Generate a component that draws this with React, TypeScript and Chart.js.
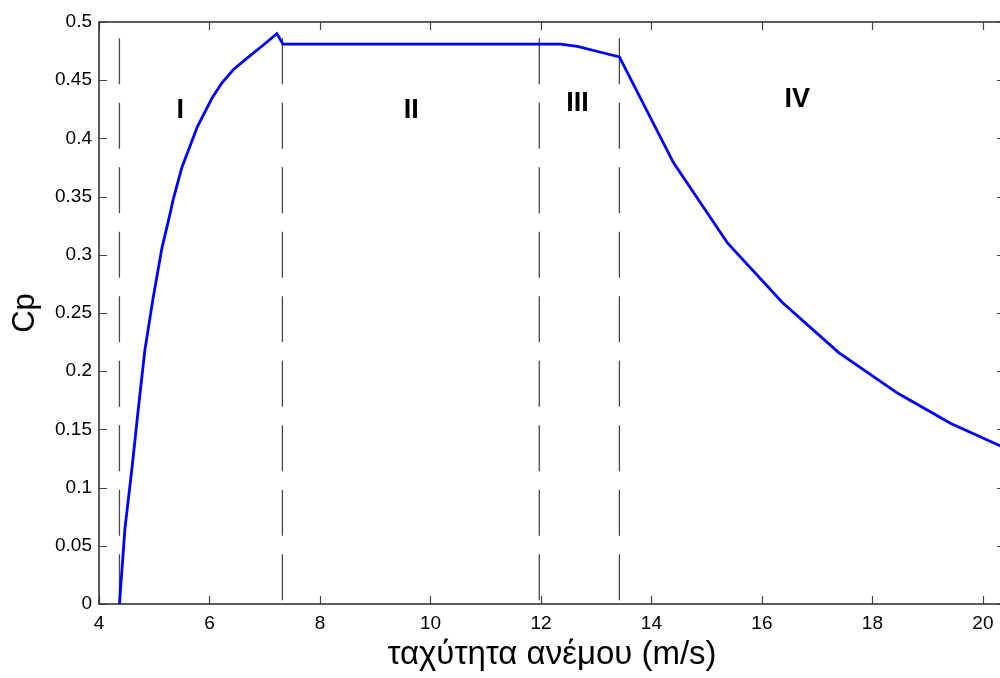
import React, { useEffect, useRef } from "react";
import { Chart, registerables } from "chart.js";

Chart.register(...registerables);

// Cp curve (wind speed m/s, Cp)
const windSpeed = [
  4.37, 4.47, 4.6, 4.71, 4.83, 4.98, 5.14, 5.29, 5.34, 5.5, 5.66, 5.78, 6.05, 6.23, 6.43, 6.68, 6.97, 7.22, 7.33,
  12.35, 12.66, 13.08, 13.42, 14.4, 15.38, 16.37, 17.39, 18.46, 19.42, 20.45,
];
const cpValues = [
  0, 0.065, 0.118, 0.167, 0.218, 0.263, 0.306, 0.336, 0.347, 0.375, 0.395, 0.41, 0.435, 0.448, 0.459, 0.469, 0.48, 0.49, 0.481,
  0.481, 0.479, 0.474, 0.47, 0.379, 0.31, 0.259, 0.216, 0.181, 0.155, 0.133,
];

// region boundaries (dashed verticals)
const boundaryX = [4.37, 7.32, 11.97, 13.42];
const boundaryTop = 0.486;

// region labels
const regionLabels = ["I", "II", "III", "IV"];
const regionLabelX = [5.47, 9.65, 12.66, 16.64];
const regionLabelY = [0.4235, 0.4235, 0.4296, 0.433];

const xTickValues = [4, 6, 8, 10, 12, 14, 16, 18, 20];
const yTickValues = [0, 0.05, 0.1, 0.15, 0.2, 0.25, 0.3, 0.35, 0.4, 0.45, 0.5];

const xTitle = "ταχύτητα ανέμου (m/s)";
const yTitle = "Cp";

const FONT = "'Liberation Sans', Arial, sans-serif";

export default function App() {
  const canvasRef = useRef<HTMLCanvasElement | null>(null);

  useEffect(() => {
    const canvas = canvasRef.current;
    if (!canvas) return;

    const boxPlugin = {
      id: "boxAndTicks",
      beforeDatasetsDraw(chart: any) {
        const { ctx, chartArea, scales } = chart;
        const { left, right, top, bottom } = chartArea;
        ctx.save();
        ctx.strokeStyle = "#444";
        ctx.lineWidth = 1.2;
        const tl = 8;
        ctx.beginPath();
        for (const v of xTickValues) {
          const px = Math.round(scales.x.getPixelForValue(v)) + 0.5;
          ctx.moveTo(px, bottom);
          ctx.lineTo(px, bottom - tl);
          ctx.moveTo(px, top);
          ctx.lineTo(px, top + tl);
        }
        for (const v of yTickValues) {
          const py = Math.round(scales.y.getPixelForValue(v)) + 0.5;
          ctx.moveTo(left, py);
          ctx.lineTo(left + tl, py);
          ctx.moveTo(right, py);
          ctx.lineTo(right - tl, py);
        }
        ctx.stroke();
        ctx.strokeStyle = "#333";
        ctx.lineWidth = 1.6;
        ctx.strokeRect(left, top, right - left, bottom - top);
        ctx.restore();
      },
      afterDatasetsDraw(chart: any) {
        const { ctx, scales } = chart;
        ctx.save();
        ctx.fillStyle = "#000";
        ctx.font = `bold 27px ${FONT}`;
        ctx.textAlign = "center";
        ctx.textBaseline = "middle";
        regionLabels.forEach((t, i) => {
          ctx.fillText(t, scales.x.getPixelForValue(regionLabelX[i]), scales.y.getPixelForValue(regionLabelY[i]));
        });
        ctx.restore();
      },
    };

    const curve = windSpeed.map((x, i) => ({ x, y: cpValues[i] }));
    const dashSets = boundaryX.map((bx) => ({
      data: [
        { x: bx, y: boundaryTop },
        { x: bx, y: 0 },
      ],
      borderColor: "#4a4a4a",
      borderWidth: 1.3,
      borderDash: [46, 18.5],
      pointRadius: 0,
      tension: 0,
      order: 1,
    }));

    const chart = new Chart(canvas, {
      type: "line",
      data: {
        datasets: [
          {
            data: curve,
            borderColor: "#0000ff",
            borderWidth: 2.8,
            pointRadius: 0,
            tension: 0,
            order: 0,
          },
          ...dashSets,
        ] as any,
      },
      plugins: [boxPlugin],
      options: {
        animation: false,
        responsive: false,
        devicePixelRatio: 1,
        layout: { padding: { left: 0, top: 22, right: 5, bottom: 0 } },
        plugins: { legend: { display: false }, tooltip: { enabled: false } },
        scales: {
          x: {
            type: "linear",
            min: 4,
            max: 20.4,
            grid: { display: false, drawTicks: false },
            border: { display: false },
            afterBuildTicks: (scale: any) => {
              scale.ticks = xTickValues.map((v) => ({ value: v }));
            },
            afterFit: (scale: any) => {
              scale.height = 74;
            },
            ticks: {
              padding: 8,
              color: "#000",
              font: { family: FONT, size: 19 },
              maxRotation: 0,
              autoSkip: false,
              callback: (v: any) => String(v),
            },
            title: {
              display: true,
              text: xTitle,
              color: "#000",
              font: { family: FONT, size: 33 },
              padding: { top: 0, bottom: 3 },
            },
          },
          y: {
            type: "linear",
            min: 0,
            max: 0.5,
            grid: { display: false, drawTicks: false },
            border: { display: false },
            afterBuildTicks: (scale: any) => {
              scale.ticks = yTickValues.map((v) => ({ value: v }));
            },
            afterFit: (scale: any) => {
              scale.width = 99;
            },
            ticks: {
              padding: 7,
              color: "#000",
              font: { family: FONT, size: 19 },
              autoSkip: false,
              callback: (v: any) => String(Math.round(Number(v) * 100) / 100),
            },
            title: {
              display: true,
              text: yTitle,
              color: "#000",
              font: { family: FONT, size: 31 },
              padding: { top: 7, bottom: 0 },
            },
          },
        },
      } as any,
    });

    return () => chart.destroy();
  }, []);

  return (
    <div
      style={{
        position: "fixed",
        left: 0,
        top: 0,
        width: 1000,
        height: 678,
        overflow: "hidden",
        background: "#fff",
      }}
    >
      <canvas ref={canvasRef} width={1010} height={678} style={{ display: "block" }} />
    </div>
  );
}
